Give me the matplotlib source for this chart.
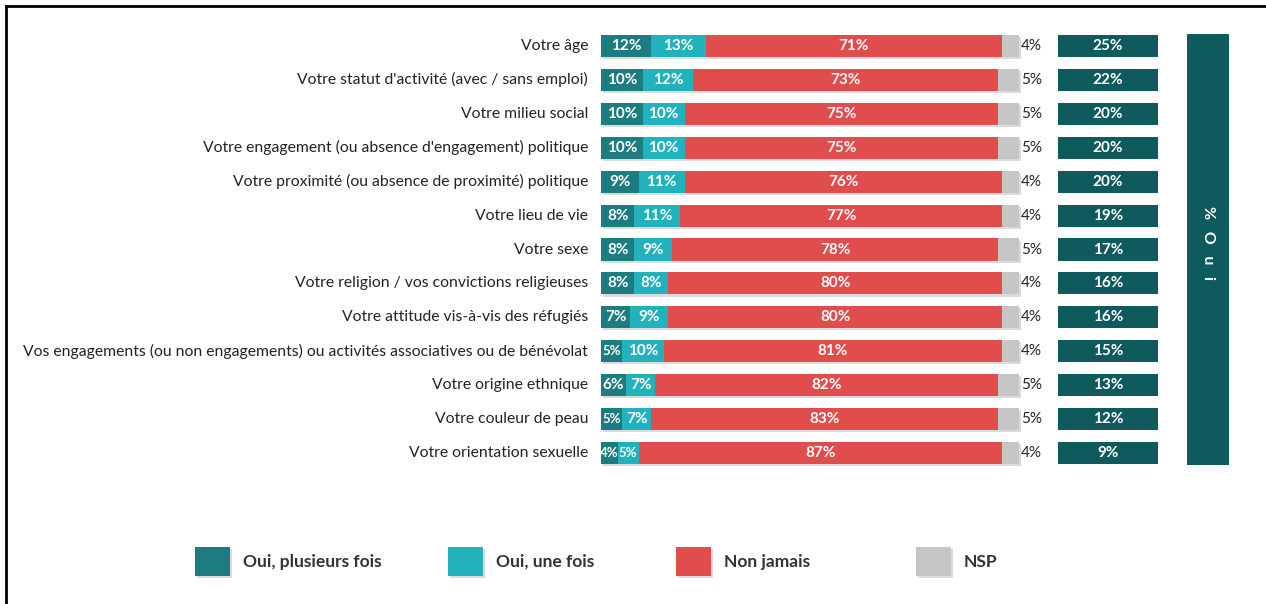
import matplotlib
matplotlib.use("Agg")
import matplotlib.pyplot as plt
import matplotlib.patheffects as pe
from matplotlib.lines import Line2D
from matplotlib.patches import Rectangle

plt.rcParams['font.family'] = ['Lato', 'DejaVu Sans']

categories = [
    "Votre âge",
    "Votre statut d'activité (avec / sans emploi)",
    "Votre milieu social",
    "Votre engagement (ou absence d'engagement) politique",
    "Votre proximité (ou absence de proximité) politique",
    "Votre lieu de vie",
    "Votre sexe",
    "Votre religion / vos convictions religieuses",
    "Votre attitude vis-à-vis des réfugiés",
    "Vos engagements (ou non engagements) ou activités associatives ou de bénévolat",
    "Votre origine ethnique",
    "Votre couleur de peau",
    "Votre orientation sexuelle",
]
oui_plusieurs = [12, 10, 10, 10, 9, 8, 8, 8, 7, 5, 6, 5, 4]
oui_une = [13, 12, 10, 10, 11, 11, 9, 8, 9, 10, 7, 7, 5]
non_jamais = [71, 73, 75, 75, 76, 77, 78, 80, 80, 81, 82, 83, 87]
nsp = [4, 5, 5, 5, 4, 4, 5, 4, 4, 4, 5, 5, 4]
total_oui = [25, 22, 20, 20, 20, 19, 17, 16, 16, 15, 13, 12, 9]

series_names = ["Oui, plusieurs fois", "Oui, une fois", "Non jamais", "NSP"]
colors = ["#1d7c80", "#22b2bb", "#e14c4d", "#c6c6c6"]
dark = "#0f5a5c"

W, H = 1266, 604
fig = plt.figure(figsize=(W / 100, H / 100), dpi=100)

# main bar axes, in pixel geometry of the reference
px_per_pct = 4.18
x0, x1 = 601, 1240
y_top, y_bot = 29, 470
ax = fig.add_axes([x0 / W, (H - y_bot) / H, (x1 - x0) / W, (y_bot - y_top) / H])
ax.set_xlim(0, (x1 - x0) / px_per_pct)
n = len(categories)
ax.set_ylim(n - 0.5, -0.5)
ax.axis('off')

shadow = [pe.SimplePatchShadow(offset=(1.2, -1.5), shadow_rgbFace='#999999', alpha=0.35), pe.Normal()]
bh = 0.65
ys = list(range(n))
left = [0] * n
for vals, col, name in zip([oui_plusieurs, oui_une, non_jamais, nsp], colors, series_names):
    bars = ax.barh(ys, vals, left=left, height=bh, color=col, edgecolor='none')
    for b in bars:
        b.set_path_effects(shadow)
    if name != "NSP":
        for y, v, l in zip(ys, vals, left):
            fs = 9.5 if v < 6 else 11
            ax.text(l + v / 2, y, f"{v}%", ha='center', va='center', color='white',
                    fontsize=fs, fontweight='bold')
    left = [a + b for a, b in zip(left, vals)]

for y, v, l in zip(ys, nsp, left):
    ax.text(l + 0.5, y, f"{v}%", ha='left', va='center', color='#222222', fontsize=11)

# total "oui" boxes
box_l, box_w = 109.3, 24
ax.barh(ys, [box_w] * n, left=box_l, height=bh, color=dark, edgecolor='none')
for y, v in zip(ys, total_oui):
    ax.text(box_l + box_w / 2, y, f"{v}%", ha='center', va='center', color='white',
            fontsize=11, fontweight='bold')

# vertical "% Oui" band
ax.bar(145.2, n - 1 + 0.7, width=10, bottom=-0.35, color=dark, edgecolor='none')
ax.text(145.2, 5.8, "%   O   u   i", rotation=-90, ha='center', va='center', color='white',
        fontsize=11.5, fontweight='bold')

# category labels
for y, c in zip(ys, categories):
    ax.text(-3.1, y, c, ha='right', va='center', color='#222222', fontsize=11.3, clip_on=False)

# legend + frame in pixel coordinates
lax = fig.add_axes([0, 0, 1, 1], zorder=-1)
lax.set_xlim(0, W)
lax.set_ylim(H, 0)
lax.axis('off')
leg_x = [195, 448, 676, 916]
for lx, col, name in zip(leg_x, colors, series_names):
    r = Rectangle((lx, 547), 35, 29, facecolor=col, edgecolor='none')
    r.set_path_effects(shadow)
    lax.add_patch(r)
    lax.text(lx + 48, 562, name, ha='left', va='center', color='#333333',
             fontsize=12.5, fontweight='bold')

lax.add_line(Line2D([6, 6], [6, H], color='black', lw=2))
lax.add_line(Line2D([6, W], [6, 6], color='black', lw=2))

fig.savefig("out.png", dpi=100)
